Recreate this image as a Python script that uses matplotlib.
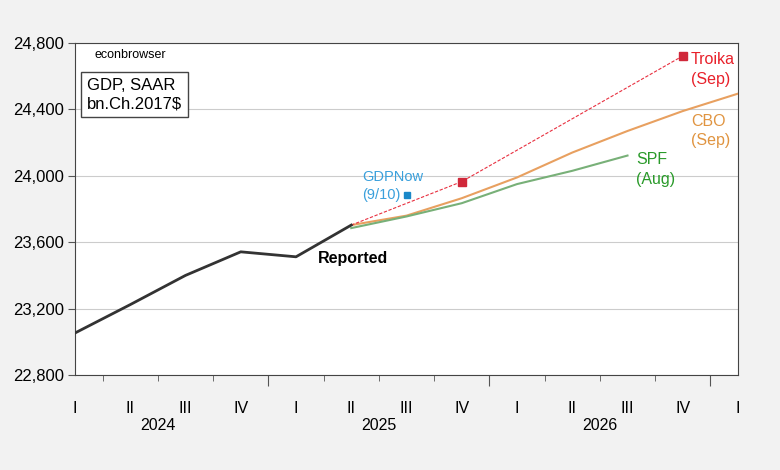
import numpy as np
import matplotlib
matplotlib.use("Agg")
import matplotlib.pyplot as plt

plt.rcParams['font.family'] = ['Liberation Sans', 'DejaVu Sans']

# quarters 2024Q1 .. 2027Q1 (index 0..12)
quarters = ['I', 'II', 'III', 'IV', 'I', 'II', 'III', 'IV', 'I', 'II', 'III', 'IV', 'I']
years = ['2024', '2025', '2026']

reported_x = [0, 1, 2, 3, 4, 5]
reported = [23053, 23224, 23400, 23542, 23512, 23703]

cbo_x = [5, 6, 7, 8, 9, 10, 11, 12]
cbo = [23703, 23760, 23865, 23990, 24140, 24270, 24390, 24495]

spf_x = [5, 6, 7, 8, 9, 10]
spf = [23685, 23755, 23835, 23950, 24030, 24122]

troika_x = [5, 7, 11]
troika = [23703, 23965, 24722]

gdpnow_x = [6]
gdpnow = [23885]

fig = plt.figure(figsize=(7.8, 4.7), dpi=100, facecolor='#f2f2f2')
ax = fig.add_axes([75/780, 1 - 375/470, 663/780, 332/470])
ax.set_facecolor('white')

ax.plot(reported_x, reported, color='#333333', lw=2.0, zorder=5)
ax.plot(cbo_x, cbo, color='#e8a060', lw=1.5, zorder=3)
ax.plot(spf_x, spf, color='#78b078', lw=1.5, zorder=3)
ax.plot(troika_x, troika, color='#e83040', lw=0.8, ls=(0, (3, 1.5)), zorder=4)
ax.plot(troika_x[1:], troika[1:], ls='none', marker='s', ms=6, color='#d0283a', zorder=6)
ax.plot(gdpnow_x, gdpnow, ls='none', marker='s', ms=4, color='#1a88c8', zorder=6)

ax.set_xlim(0, 12)
ax.set_ylim(22800, 24800)
ax.set_yticks(np.arange(22800, 24801, 400))
ax.set_yticklabels([f'{v:,}' for v in range(22800, 24801, 400)], fontsize=12)
ax.yaxis.grid(True, color='#cccccc', lw=0.8)
ax.set_axisbelow(True)

# quarter ticks between observations, year boundaries longer
ax.set_xticks([3.5, 7.5, 11.5])
ax.set_xticks([0.5, 1.5, 2.5, 4.5, 5.5, 6.5, 8.5, 9.5, 10.5], minor=True)
ax.set_xticklabels([])
ax.tick_params(axis='x', which='major', length=8, direction='out', color='#555555')
ax.tick_params(axis='x', which='minor', length=4, direction='out', color='#555555')
ax.tick_params(axis='y', length=5, color='#555555', pad=3)
for i, q in enumerate(quarters):
    ax.text(i, -0.1, q, transform=ax.get_xaxis_transform(), ha='center', va='center', fontsize=11.5)
for i, y in enumerate(years):
    ax.text(1.5 + 4 * i, -0.152, y, transform=ax.get_xaxis_transform(), ha='center', va='center', fontsize=11.5)
for s in ax.spines.values():
    s.set_color('#444444')

ax.text(0.35, 24725, 'econbrowser', fontsize=9, va='center')
ax.text(0.22, 24490, 'GDP, SAAR\nbn.Ch.2017$', fontsize=12, va='center', linespacing=1.3,
        bbox=dict(boxstyle='square,pad=0.35', fc='white', ec='#444444', lw=1))
ax.text(4.4, 23500, 'Reported', fontsize=11.5, fontweight='bold', va='center')
ax.text(5.2, 23940, 'GDPNow\n(9/10)', fontsize=10.5, color='#3aa0dc', va='center', linespacing=1.4)
ax.text(11.15, 24640, 'Troika\n(Sep)', fontsize=11.5, color='#e8202a', va='center', linespacing=1.4)
ax.text(11.15, 24270, 'CBO\n(Sep)', fontsize=11.5, color='#e09440', va='center', linespacing=1.4)
ax.text(10.15, 24040, 'SPF\n(Aug)', fontsize=11.5, color='#2a9a2a', va='center', linespacing=1.4)

fig.savefig('out.png', dpi=100, facecolor=fig.get_facecolor())
